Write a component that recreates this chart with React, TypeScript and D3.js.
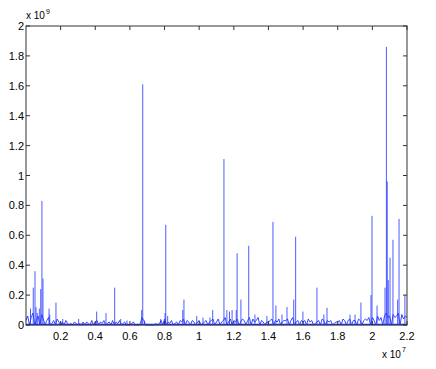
import React from "react";
import * as d3 from "d3";

// x in units of 1e7, y in units of 1e9
const noiseStep = 0.01;
const noiseValues: number[] = [
  0.03, 0.06, 0.0, 0.05, 0.08, 0.0, 0.03, 0.06, 0.0, 0.07,
  0.04, 0.0, 0.03, 0.05, 0.0, 0.01, 0.03, 0.0, 0.04, 0.02,
  0.0, 0.02, 0.0, 0.03, 0.01, 0.0, 0.01, 0.0, 0.02, 0.01,
  0.0, 0.01, 0.0, 0.02, 0.0, 0.02, 0.01, 0.0, 0.03, 0.0,
  0.02, 0.03, 0.0, 0.02, 0.01, 0.03, 0.0, 0.01, 0.02, 0.0,
  0.03, 0.0, 0.02, 0.01, 0.03, 0.0, 0.01, 0.02, 0.0, 0.0,
  0.0, 0.01, 0.02, 0.0, 0.0, 0.0, 0.01, 0.05, 0.03, 0.0,
  0.0, 0.0, 0.0, 0.0, 0.0, 0.01, 0.0, 0.01, 0.03, 0.0,
  0.04, 0.0, 0.02, 0.01, 0.03, 0.0, 0.01, 0.02, 0.0, 0.03,
  0.02, 0.04, 0.0, 0.03, 0.02, 0.0, 0.03, 0.02, 0.0, 0.02,
  0.03, 0.0, 0.01, 0.02, 0.03, 0.0, 0.02, 0.03, 0.04, 0.0,
  0.02, 0.04, 0.0, 0.02, 0.03, 0.05, 0.0, 0.02, 0.04, 0.0,
  0.03, 0.02, 0.04, 0.0, 0.02, 0.04, 0.03, 0.0, 0.03, 0.05,
  0.0, 0.04, 0.02, 0.03, 0.05, 0.0, 0.03, 0.02, 0.0, 0.02,
  0.02, 0.03, 0.04, 0.0, 0.03, 0.02, 0.04, 0.0, 0.02, 0.03,
  0.03, 0.04, 0.0, 0.03, 0.05, 0.0, 0.02, 0.03, 0.0, 0.03,
  0.02, 0.03, 0.0, 0.04, 0.02, 0.03, 0.0, 0.01, 0.02, 0.03,
  0.0, 0.04, 0.03, 0.0, 0.03, 0.02, 0.03, 0.0, 0.01, 0.02,
  0.02, 0.03, 0.0, 0.04, 0.03, 0.0, 0.03, 0.04, 0.0, 0.03,
  0.03, 0.0, 0.04, 0.03, 0.0, 0.03, 0.04, 0.03, 0.05, 0.0,
  0.05, 0.03, 0.0, 0.06, 0.03, 0.05, 0.0, 0.06, 0.08, 0.05,
  0.06, 0.0, 0.07, 0.05, 0.06, 0.08, 0.0, 0.07, 0.04, 0.06,
  0.05,
];

const spikeX: number[] = [
  0.026, 0.042, 0.052, 0.058, 0.065, 0.077, 0.085, 0.092, 0.098, 0.133,
  0.137, 0.173, 0.212, 0.304, 0.408, 0.462, 0.512, 0.547, 0.583, 0.668,
  0.674, 0.685, 0.778, 0.803, 0.807, 0.818, 0.905, 0.912, 0.986, 1.022,
  1.062, 1.078, 1.143, 1.16, 1.175, 1.19, 1.214, 1.219, 1.241, 1.286,
  1.322, 1.391, 1.426, 1.443, 1.478, 1.507, 1.546, 1.557, 1.599, 1.68,
  1.72, 1.738, 1.871, 1.9, 1.934, 1.992, 1.998, 2.027, 2.073, 2.081,
  2.086, 2.092, 2.102, 2.119, 2.146, 2.154, 2.188,
];
const spikeY: number[] = [
  0.11, 0.25, 0.36, 0.12, 0.08, 0.11, 0.24, 0.83, 0.31, 0.11,
  0.07, 0.15, 0.04, 0.04, 0.09, 0.08, 0.25, 0.04, 0.03, 0.1,
  1.61, 0.03, 0.04, 0.08, 0.67, 0.06, 0.1, 0.17, 0.06, 0.05,
  0.05, 0.1, 1.11, 0.1, 0.09, 0.1, 0.1, 0.48, 0.17, 0.53,
  0.07, 0.06, 0.69, 0.13, 0.07, 0.12, 0.17, 0.59, 0.09, 0.25,
  0.07, 0.115, 0.07, 0.07, 0.15, 0.2, 0.73, 0.13, 0.25, 1.86,
  0.96, 0.3, 0.45, 0.57, 0.17, 0.71, 0.2,
];

const xTicks = [0.2, 0.4, 0.6, 0.8, 1, 1.2, 1.4, 1.6, 1.8, 2, 2.2];
const yTicks = [0, 0.2, 0.4, 0.6, 0.8, 1, 1.2, 1.4, 1.6, 1.8, 2];

export default function App() {
  const W = 436, H = 369;
  const left = 26, right = 407, top = 26, bottom = 325;
  const x = d3.scaleLinear().domain([0, 2.2]).range([left, right]);
  const y = d3.scaleLinear().domain([0, 2]).range([bottom, top]);

  const pts: [number, number][] = noiseValues.map((v, i) => [i * noiseStep, v]);

  const line = d3
    .line<[number, number]>()
    .x((d) => x(d[0]))
    .y((d) => y(d[1]));

  const font = "'Liberation Sans', Arial, Helvetica, sans-serif";
  const axisColor = "#333";
  const tl = 4;
  const blue = "#2236ff";

  return (
    <svg
      width={W}
      height={H}
      style={{ position: "absolute", left: 0, top: 0, background: "#fff" }}
      fontFamily={font}
    >
      <rect x={0} y={0} width={W} height={H} fill="#fff" />
      <path d={line(pts) || ""} fill="none" stroke={blue} strokeWidth={1} strokeOpacity={0.9} />
      {spikeX.map((sx, i) => (
        <line
          key={"s" + i}
          x1={x(sx)}
          x2={x(sx)}
          y1={y(0)}
          y2={y(spikeY[i])}
          stroke={blue}
          strokeWidth={1}
          strokeOpacity={0.8}
        />
      ))}
      <line x1={left} x2={right} y1={bottom - 0.5} y2={bottom - 0.5} stroke={blue} strokeWidth={1.5} />
      {/* box */}
      <rect
        x={left}
        y={top}
        width={right - left}
        height={bottom - top}
        fill="none"
        stroke={axisColor}
        strokeWidth={1}
      />
      {xTicks.map((t) => (
        <g key={"x" + t}>
          <line x1={x(t)} x2={x(t)} y1={bottom} y2={bottom - tl} stroke={axisColor} />
          <line x1={x(t)} x2={x(t)} y1={top} y2={top + tl} stroke={axisColor} />
          <text x={x(t)} y={340} fontSize={11} textAnchor="middle" fill="#000">
            {String(t)}
          </text>
        </g>
      ))}
      {yTicks.map((t) => (
        <g key={"y" + t}>
          <line x1={left} x2={left + tl} y1={y(t)} y2={y(t)} stroke={axisColor} />
          <line x1={right} x2={right - tl} y1={y(t)} y2={y(t)} stroke={axisColor} />
          <text x={24} y={y(t) + 4} fontSize={11} textAnchor="end" fill="#000">
            {String(t)}
          </text>
        </g>
      ))}
      <text x={26} y={19} fontSize={10} fill="#000">
        x 10
      </text>
      <text x={46} y={14} fontSize={7} fill="#000">
        9
      </text>
      <text x={382} y={358} fontSize={10} fill="#000">
        x 10
      </text>
      <text x={402} y={352} fontSize={7} fill="#000">
        7
      </text>
    </svg>
  );
}
